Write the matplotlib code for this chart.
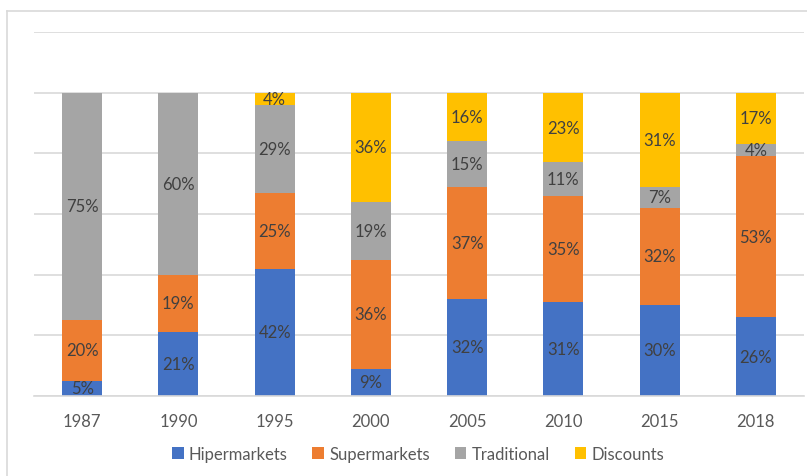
import numpy as np
import matplotlib.pyplot as plt
from matplotlib.lines import Line2D

years = ['1987', '1990', '1995', '2000', '2005', '2010', '2015', '2018']
hipermarkets = [5, 21, 42, 9, 32, 31, 30, 26]
supermarkets = [20, 19, 25, 36, 37, 35, 32, 53]
traditional = [75, 60, 29, 19, 15, 11, 7, 4]
discounts = [0, 0, 4, 36, 16, 23, 31, 17]

series = [('Hipermarkets', hipermarkets, '#4472C4'),
          ('Supermarkets', supermarkets, '#ED7D31'),
          ('Traditional', traditional, '#A5A5A5'),
          ('Discounts', discounts, '#FFC000')]

plt.rcParams['font.family'] = ['Lato', 'DejaVu Sans']

fig = plt.figure(figsize=(8.07, 4.77), dpi=100)
ax = fig.add_axes([34/807, 80/477, 770/807, 364/477])

x = np.arange(len(years))
bottom = np.zeros(len(years))
for name, vals, color in series:
    vals = np.array(vals, dtype=float)
    ax.bar(x, vals, 0.415, bottom=bottom, color=color, label=name, zorder=2)
    for xi, b, v in zip(x, bottom, vals):
        if v > 0:
            ax.text(xi, b + v / 2, f'{int(v)}%', ha='center', va='center',
                    fontsize=12, color='#404040', zorder=3)
    bottom += vals

ax.set_xlim(-0.5, len(years) - 0.5)
ax.set_ylim(0, 120)
ax.set_yticks(np.arange(0, 121, 20))
ax.yaxis.grid(True, color='#D9D9D9', linewidth=1.2, zorder=0)
ax.tick_params(axis='y', left=False, labelleft=False)
ax.tick_params(axis='x', bottom=False, pad=9, labelsize=12, labelcolor='#595959')
ax.set_xticks(x)
ax.set_xticklabels(years)
for s in ['top', 'right', 'left']:
    ax.spines[s].set_visible(False)
ax.spines['bottom'].set_color('#D9D9D9')
ax.spines['bottom'].set_linewidth(1.2)

# chart area border (runs off the right and bottom edges)
fig.add_artist(Line2D([7/807, 7/807], [0, 1 - 12/477], transform=fig.transFigure,
                      color='#D9D9D9', lw=1.2))
fig.add_artist(Line2D([7/807, 1], [1 - 12/477, 1 - 12/477], transform=fig.transFigure,
                      color='#D9D9D9', lw=1.2))

fig.legend(loc='center', bbox_to_anchor=(418/807, 1 - 455/477), ncol=4,
           frameon=False, fontsize=12, labelcolor='#595959',
           handlelength=0.7, handleheight=0.7, handletextpad=0.3,
           columnspacing=1.5)

fig.savefig('out.png', dpi=100)
